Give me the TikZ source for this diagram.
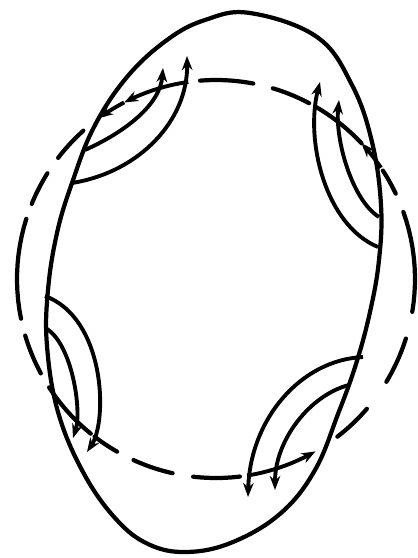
\documentclass[tikz,border=0pt]{standalone}
\usepackage{tikz}
\usetikzlibrary{arrows.meta}

\tikzset{
  ring/.style={line width=2.4pt, line cap=round},
  wall/.style={line width=2.4pt},
  flow/.style={line width=2.2pt, -{Stealth[length=8pt,width=6pt]}}
}

\begin{document}
\begin{tikzpicture}[x=0.02cm, y=-0.02cm]
  \useasboundingbox (0,0) rectangle (418,558);
  % Solid egg-shaped loop
  \draw[wall] plot[smooth cycle, tension=0.65] coordinates {
    (250,13) (317,37) (352,85) (372,142) (381,205) (379,260) (370,312)
    (356,364) (338,414) (315,470) (281,513) (233,542) (187,552) (148,544)
    (115,518) (83,472) (58,412) (47,346) (48,290) (57,233) (72,183)
    (94,127) (127,77) (167,40) (205,20)};
  % Dashed ring, dash by dash
  \foreach \a/\b in {265.4/280.8, 286.6/297.9, 327/334.6, 340.3/369.5,
                     17.4/31.1, 40.7/52.4, 83.1/96.6, 102.6/114.5,
                     119.8/127.6, 151.7/163.5, 168.5/197.6, 202.2/212.1,
                     217.5/228.2}
    \draw[ring] plot[domain=\a:\b, samples=12] ({216+199*cos(\x)}, {279+199*sin(\x)});
  % Ring through the crossings (solid, with heads)
  \draw[flow] plot[domain=262:242.5, samples=12] ({216+199*cos(\x)}, {279+199*sin(\x)});
  \draw[flow] plot[domain=242.5:234, samples=8] ({216+199*cos(\x)}, {279+199*sin(\x)});
  \draw[ring] plot[domain=300:317, samples=10] ({216+199*cos(\x)}, {279+199*sin(\x)});
  \draw[flow] plot[domain=326:317, samples=8] ({216+199*cos(\x)}, {279+199*sin(\x)});
  \draw[ring] plot[domain=129:147, samples=10] ({216+199*cos(\x)}, {279+199*sin(\x)});
  \draw[flow] plot[domain=81:60, samples=12] ({216+199*cos(\x)}, {279+199*sin(\x)});
  % Top left pair
  \coordinate (tlA) at (72,183);  \coordinate (tlAt) at (187,56);
  \coordinate (tlB) at (85,150);  \coordinate (tlBt) at (163,68);
  \draw[flow] (tlA) .. controls (140,172) and (188,120) .. (tlAt);
  \draw[flow] (tlB) .. controls (125,132) and (160,105) .. (tlBt);
  % Top right pair
  \coordinate (trA) at (378,247); \coordinate (trAt) at (320,82);
  \coordinate (trB) at (379,217); \coordinate (trBt) at (339,100);
  \draw[flow] (trA) .. controls (325,225) and (305,140) .. (trAt);
  \draw[flow] (trB) .. controls (352,200) and (335,140) .. (trBt);
  % Lower left pair
  \coordinate (llA) at (45,296);  \coordinate (llAt) at (87,452);
  \coordinate (llB) at (47,329);  \coordinate (llBt) at (73,438);
  \draw[flow] (llA) .. controls (105,318) and (108,420) .. (llAt);
  \draw[flow] (llB) .. controls (72,345) and (82,410) .. (llBt);
  % Lower right pair
  \coordinate (lrA) at (363,357); \coordinate (lrAt) at (248,497);
  \coordinate (lrB) at (349,385); \coordinate (lrBt) at (275,490);
  \draw[flow] (lrA) .. controls (300,360) and (250,420) .. (lrAt);
  \draw[flow] (lrB) .. controls (310,395) and (275,440) .. (lrBt);
\end{tikzpicture}
\end{document}
